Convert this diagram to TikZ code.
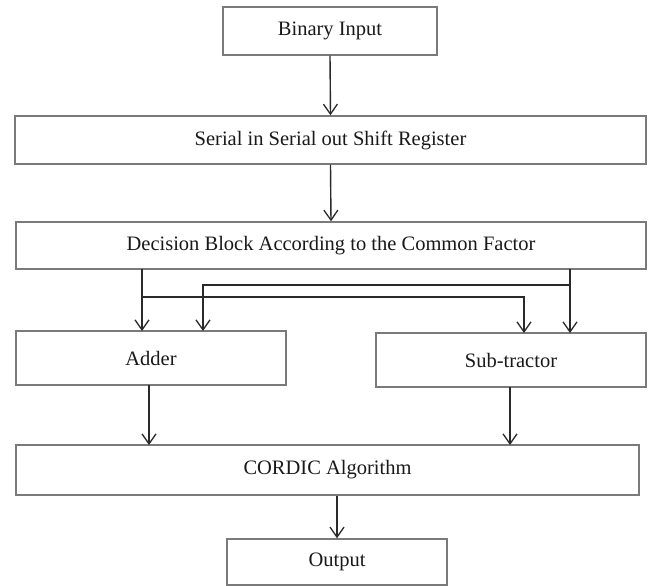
\documentclass[tikz,border=0pt]{standalone}
\usepackage{fontspec}
\setmainfont{Liberation Serif}
\usetikzlibrary{arrows.meta}
\definecolor{boxline}{HTML}{7A7A7A}
\definecolor{arrline}{HTML}{2A2A2A}
\tikzset{
  blk/.style={draw=boxline, line width=1.5pt, rectangle, inner sep=0pt,
    font=\fontsize{20.5}{24}\selectfont, text=black!90},
  conn/.style={draw=arrline, line width=1.4pt,
    -{Straight Barb[length=10pt,width=14pt,line width=1.3pt]}}
}
\begin{document}
\begin{tikzpicture}[x=1pt,y=-1pt]
\useasboundingbox (0,0) rectangle (654,586);
% boxes (pixel coordinates, y downward)
\node[blk, minimum width=214pt, minimum height=48pt] (bin) at (330,31) {Binary Input};
\node[blk, minimum width=631pt, minimum height=48pt] (sis) at (330.5,140) {Serial in Serial out Shift Register};
\node[blk, minimum width=630pt, minimum height=47pt] (dec) at (331,245.5) {Decision Block According to the Common Factor};
\node[blk, minimum width=270pt, minimum height=54pt] (add) at (151,358) {Adder};
\node[blk, minimum width=270pt, minimum height=54pt] (sub) at (511,360) {Sub-tractor};
\node[blk, minimum width=623pt, minimum height=50pt] (cor) at (327.5,470) {CORDIC Algorithm};
\node[blk, minimum width=220pt, minimum height=46pt] (out) at (337,562) {Output};
% junction coordinates
\coordinate (dl) at (142,269);
\coordinate (dr) at (570,269);
\coordinate (jl) at (142,297);
\coordinate (jr) at (570,285);
\coordinate (al) at (142,331);
\coordinate (ar) at (203,331);
\coordinate (sl) at (524,333);
\coordinate (sr) at (570,333);
\coordinate (ao) at (149,385);
\coordinate (so) at (510,387);
\coordinate (ci) at (149,445);
\coordinate (cj) at (510,445);
% connectors
\draw[conn] (bin.south) -- (sis.north);
\draw[conn] (sis.south) -- (dec.north);
\draw[conn] (dl) -- (al);
\draw[conn] (jl) -| (sl);
\draw[conn] (dr) -- (sr);
\draw[conn] (jr) -| (ar);
\draw[conn] (ao) -- (ci);
\draw[conn] (so) -- (cj);
\draw[conn] (cor.south -| out.north) -- (out.north);
\end{tikzpicture}
\end{document}
